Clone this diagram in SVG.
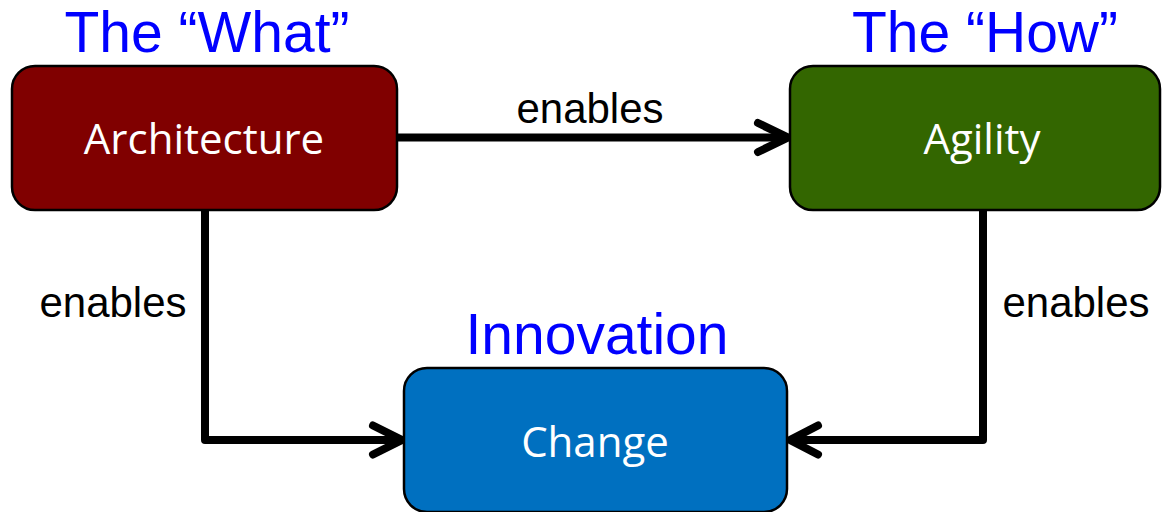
<svg xmlns="http://www.w3.org/2000/svg" width="1162" height="512" viewBox="0 0 1162 512">
<style>
.box{stroke:#000;stroke-width:2.5}
.lbl{font-family:"Open Sans","Noto Sans",sans-serif;font-size:42px;fill:#fff;text-anchor:middle}
.title{font-family:"Liberation Sans",Arial,sans-serif;font-size:57px;fill:#0000ff;text-anchor:middle}
.en{font-family:"Liberation Sans",Arial,sans-serif;font-size:42px;fill:#000;text-anchor:middle}
.conn{fill:none;stroke:#000;stroke-width:8;stroke-linejoin:round;stroke-linecap:butt}
.head{fill:none;stroke:#000;stroke-width:8;stroke-linecap:round;stroke-linejoin:miter}
</style>
<rect width="1162" height="512" fill="#fff"/>
<g id="connectors">
<path class="conn" d="M397 137.5H786"/>
<path class="head" d="M758 123L788 137.5L758 152"/>
<path class="conn" d="M205 210V440H400"/>
<path class="head" d="M373 425.5L402 440L373 454.5"/>
<path class="conn" d="M983 210V440H792"/>
<path class="head" d="M818 425.5L790 440L818 454.5"/>
<text class="en" x="590" y="123">enables</text>
<text class="en" x="113" y="317">enables</text>
<text class="en" x="1076" y="317">enables</text>
</g>
<g id="architecture">
<rect class="box" x="12" y="66" width="385" height="144" rx="23" fill="#800000"/>
<text class="lbl" x="204" y="154">Architecture</text>
<text class="title" x="207" y="52">The “What”</text>
</g>
<g id="agility">
<rect class="box" x="790" y="66" width="370" height="144" rx="23" fill="#336600"/>
<text class="lbl" x="982" y="154">Agility</text>
<text class="title" x="985" y="52">The “How”</text>
</g>
<g id="change">
<rect class="box" x="404" y="368" width="383" height="144" rx="23" fill="#0070c0"/>
<text class="lbl" x="595" y="457">Change</text>
<text class="title" x="597" y="354">Innovation</text>
</g>
</svg>
